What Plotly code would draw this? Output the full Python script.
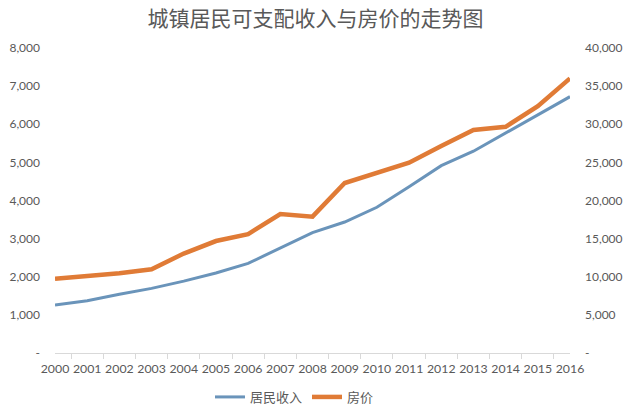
import plotly.graph_objects as go

years = [str(y) for y in range(2000, 2017)]
income = [6280, 6860, 7703, 8472, 9422, 10493, 11759, 13786, 15781, 17175,
          19109, 21810, 24565, 26467, 28844, 31195, 33616]
price = [1948, 2017, 2092, 2197, 2608, 2937, 3119, 3645, 3576, 4459,
         4725, 4993, 5430, 5850, 5933, 6473, 7203]

left_vals = [0, 1000, 2000, 3000, 4000, 5000, 6000, 7000, 8000]
left_text = ["-", "1,000", "2,000", "3,000", "4,000", "5,000", "6,000", "7,000", "8,000"]
right_vals = [0, 5000, 10000, 15000, 20000, 25000, 30000, 35000, 40000]
right_text = ["-", "5,000", "10,000", "15,000", "20,000", "25,000", "30,000", "35,000", "40,000"]

BLUE = "#6a94ba"
ORANGE = "#e07b36"
GRAY = "#595959"
FONT = "Lato, Noto Sans CJK SC, sans-serif"

fig = go.Figure()
fig.add_trace(go.Scatter(x=years, y=income, name="居民收入", mode="lines",
                         line=dict(color=BLUE, width=3), yaxis="y"))
fig.add_trace(go.Scatter(x=years, y=price, name="房价", mode="lines",
                         line=dict(color=ORANGE, width=4.5), yaxis="y2"))

fig.update_layout(
    width=631, height=413,
    margin=dict(l=55, r=61, t=48, b=60, autoexpand=False),
    paper_bgcolor="white", plot_bgcolor="white",
    font=dict(family=FONT, size=12, color=GRAY),
    title=dict(text="城镇居民可支配收入与房价的走势图", x=0.5, xanchor="center",
               y=0.955, yanchor="middle",
               font=dict(family="Noto Sans CJK SC, sans-serif", size=21, color=GRAY)),
    xaxis=dict(type="category", showgrid=False, showline=True, linecolor="#d9d9d9",
               linewidth=1, ticks="outside", ticklen=5, tickcolor="#d9d9d9",
               tickson="boundaries", tickangle=0, automargin=False,
               ticklabelstandoff=4,
               tickfont=dict(size=12.3, color=GRAY), zeroline=False),
    yaxis=dict(side="right", range=[0, 40000], tickvals=right_vals, ticktext=right_text,
               showgrid=False, zeroline=False, showline=False, ticks="", automargin=False,
               tickfont=dict(size=12, color=GRAY), ticklabelstandoff=14),
    yaxis2=dict(side="left", overlaying="y", range=[0, 8000], tickvals=left_vals,
                ticktext=left_text, showgrid=False, zeroline=False, showline=False,
                ticks="", automargin=False, tickfont=dict(size=12, color=GRAY),
                ticklabelstandoff=14),
    legend=dict(orientation="h", x=0.465, xanchor="center", y=-0.095, yanchor="top",
                font=dict(size=13, color=GRAY), itemwidth=30),
    showlegend=True,
)

fig.write_html("out.html")
